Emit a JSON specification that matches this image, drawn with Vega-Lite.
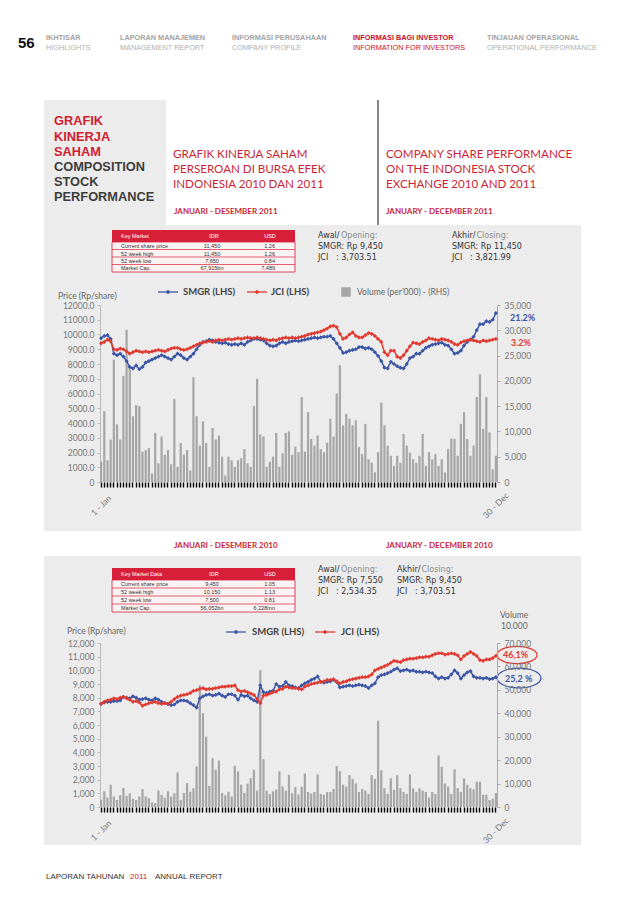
{
"$schema":"https://vega.github.io/schema/vega-lite/v6.json",
"padding":0,
"background":"#ffffff",
"bounds":"flush",
"spacing":161,
"config":{"view":{"stroke":null},"font":"Lato"},
"datasets":{
"rects":[
{"k":"page","x":0,"x2":638,"y":0,"y2":903},
{"k":"bg","x":44,"x2":166,"y":100,"y2":226},
{"k":"bg","x":44,"x2":581,"y":225,"y2":531},
{"k":"bg","x":44,"x2":581,"y":556,"y2":845},
{"k":"th","x":112,"x2":295,"y":230,"y2":242},
{"k":"tb","x":112,"x2":295,"y":242,"y2":272},
{"k":"th","x":112,"x2":295,"y":568,"y2":580},
{"k":"tb","x":112,"x2":295,"y":580,"y2":612}
],
"rules":[
{"k":"vl","x":378,"x2":378,"y":100,"y2":225},
{"k":"tl","x":112,"x2":295,"y":249.5,"y2":249.5},
{"k":"tl","x":112,"x2":295,"y":257,"y2":257},
{"k":"tl","x":112,"x2":295,"y":264.5,"y2":264.5},
{"k":"tl","x":112,"x2":295,"y":588,"y2":588},
{"k":"tl","x":112,"x2":295,"y":596,"y2":596},
{"k":"tl","x":112,"x2":295,"y":604,"y2":604},
{"k":"lb","x":158,"x2":178,"y":292,"y2":292},
{"k":"lr","x":247,"x2":267,"y":292,"y2":292},
{"k":"lb","x":226,"x2":246,"y":632,"y2":632},
{"k":"lr","x":315,"x2":335,"y":632,"y2":632}
],
"pts":[
{"k":"db","x":168,"y":292},
{"k":"dr","x":257,"y":292},
{"k":"db","x":236,"y":632},
{"k":"dr","x":325,"y":632},
{"k":"sq","x":346,"y":292},
{"k":"er","x":517,"y":655},
{"k":"eb","x":519,"y":678}
],
"txt":[
{"k":"pg","x":18,"y":43,"t":"56"},
{"k":"n1","x":46,"y":38,"t":"IKHTISAR"},
{"k":"n1","x":120,"y":38,"t":"LAPORAN MANAJEMEN"},
{"k":"n1","x":232,"y":38,"t":"INFORMASI PERUSAHAAN"},
{"k":"n1","x":487,"y":38,"t":"TINJAUAN OPERASIONAL"},
{"k":"n2","x":46,"y":48,"t":"HIGHLIGHTS"},
{"k":"n2","x":120,"y":48,"t":"MANAGEMENT REPORT"},
{"k":"n2","x":232,"y":48,"t":"COMPANY PROFILE"},
{"k":"n2","x":487,"y":48,"t":"OPERATIONAL PERFORMANCE"},
{"k":"r1","x":353,"y":38,"t":"INFORMASI BAGI INVESTOR"},
{"k":"r2","x":353,"y":48,"t":"INFORMATION FOR INVESTORS"},
{"k":"bt","x":54,"y":121,"t":"GRAFIK"},
{"k":"bt","x":54,"y":137,"t":"KINERJA"},
{"k":"bt","x":54,"y":152,"t":"SAHAM"},
{"k":"bd","x":54,"y":167,"t":"COMPOSITION"},
{"k":"bd","x":54,"y":182,"t":"STOCK"},
{"k":"bd","x":54,"y":197,"t":"PERFORMANCE"},
{"k":"tt","x":173,"y":155,"t":"GRAFIK KINERJA SAHAM"},
{"k":"tt","x":173,"y":170,"t":"PERSEROAN DI BURSA EFEK"},
{"k":"tt","x":173,"y":185,"t":"INDONESIA 2010 DAN 2011"},
{"k":"tt","x":386,"y":155,"t":"COMPANY SHARE PERFORMANCE"},
{"k":"tt","x":386,"y":170,"t":"ON THE INDONESIA STOCK"},
{"k":"tt","x":386,"y":185,"t":"EXCHANGE 2010 AND 2011"},
{"k":"st","x":174,"y":212,"t":"JANUARI - DESEMBER 2011"},
{"k":"st","x":386,"y":212,"t":"JANUARY - DECEMBER 2011"},
{"k":"st","x":174,"y":546,"t":"JANUARI - DESEMBER 2010"},
{"k":"st","x":386,"y":546,"t":"JANUARY - DECEMBER 2010"},
{"k":"twl","x":121,"y":236,"t":"Key Market"},
{"k":"twc","x":214,"y":236,"t":"IDR"},
{"k":"twc","x":270,"y":236,"t":"USD"},
{"k":"tdl","x":121,"y":246,"t":"Current share price"},
{"k":"tdl","x":121,"y":253.5,"t":"52 week high"},
{"k":"tdl","x":121,"y":261,"t":"52 week low"},
{"k":"tdl","x":121,"y":268,"t":"Market Cap."},
{"k":"tdc","x":212,"y":246,"t":"11,450"},
{"k":"tdc","x":212,"y":253.5,"t":"11,450"},
{"k":"tdc","x":212,"y":261,"t":"7,650"},
{"k":"tdc","x":212,"y":268,"t":"67,915bn"},
{"k":"tdr","x":275,"y":246,"t":"1.26"},
{"k":"tdr","x":275,"y":253.5,"t":"1.26"},
{"k":"tdr","x":275,"y":261,"t":"0.84"},
{"k":"tdr","x":275,"y":268,"t":"7,489"},
{"k":"twl","x":121,"y":574,"t":"Key Market  Data"},
{"k":"twc","x":214,"y":574,"t":"IDR"},
{"k":"twc","x":270,"y":574,"t":"USD"},
{"k":"tdl","x":121,"y":584,"t":"Current share price"},
{"k":"tdl","x":121,"y":592,"t":"52 week high"},
{"k":"tdl","x":121,"y":600,"t":"52 week low"},
{"k":"tdl","x":121,"y":608,"t":"Market Cap."},
{"k":"tdc","x":212,"y":584,"t":"9,450"},
{"k":"tdc","x":212,"y":592,"t":"10,150"},
{"k":"tdc","x":212,"y":600,"t":"7,500"},
{"k":"tdc","x":212,"y":608,"t":"56,052bn"},
{"k":"tdr","x":275,"y":584,"t":"1.05"},
{"k":"tdr","x":275,"y":592,"t":"1.13"},
{"k":"tdr","x":275,"y":600,"t":"0.81"},
{"k":"tdr","x":275,"y":608,"t":"6,228mn"},
{"k":"aw","x":318,"y":236,"t":"Awal/"},
{"k":"ag","x":341,"y":236,"t":"Opening:"},
{"k":"aw","x":318,"y":247,"t":"SMGR: Rp 9,450"},
{"k":"aw","x":318,"y":258,"t":"JCI\u00a0\u00a0 : 3,703.51"},
{"k":"aw","x":452,"y":236,"t":"Akhir/"},
{"k":"ag","x":476.5,"y":236,"t":"Closing:"},
{"k":"aw","x":452,"y":247,"t":"SMGR: Rp 11,450"},
{"k":"aw","x":452,"y":258,"t":"JCI\u00a0\u00a0 : 3,821.99"},
{"k":"aw","x":318,"y":570,"t":"Awal/"},
{"k":"ag","x":341,"y":570,"t":"Opening:"},
{"k":"aw","x":318,"y":581,"t":"SMGR: Rp 7,550"},
{"k":"aw","x":318,"y":592,"t":"JCI\u00a0\u00a0 : 2,534.35"},
{"k":"aw","x":397,"y":570,"t":"Akhir/"},
{"k":"ag","x":421.5,"y":570,"t":"Closing:"},
{"k":"aw","x":397,"y":581,"t":"SMGR: Rp 9,450"},
{"k":"aw","x":397,"y":592,"t":"JCI\u00a0\u00a0 : 3,703.51"},
{"k":"lg","x":183,"y":292,"t":"SMGR (LHS)"},
{"k":"lg","x":271,"y":292,"t":"JCI (LHS)"},
{"k":"lv","x":357,"y":292,"t":"Volume (per'000) - (RHS)"},
{"k":"lg","x":252,"y":632,"t":"SMGR (LHS)"},
{"k":"lg","x":341,"y":632,"t":"JCI (LHS)"},
{"k":"ax","x":58,"y":296,"t":"Price (Rp/share)"},
{"k":"ax","x":67,"y":631,"t":"Price (Rp/share)"},
{"k":"ax","x":500,"y":615,"t":"Volume"},
{"k":"ax","x":501,"y":626,"t":"10.000"},
{"k":"pb","x":510,"y":318,"t":"21.2%"},
{"k":"pr","x":511,"y":343,"t":"3.2%"},
{"k":"pr","x":503,"y":655,"t":"46,1%"},
{"k":"pb","x":505,"y":678.5,"t":"25,2 %"},
{"k":"ft","x":46,"y":877,"t":"LAPORAN TAHUNAN"},
{"k":"fr","x":130,"y":877,"t":"2011"},
{"k":"ft","x":155,"y":877,"t":"ANNUAL REPORT"}
],
"y2011":[
{"i":0,"s":9750,"j":9400,"v":4000},{"i":1,"s":9900,"j":9500,"v":14000},{"i":2,"s":9950,"j":9650,"v":4300},{"i":3,"s":9700,"j":9550,"v":8400},{"i":4,"s":8700,"j":9000,"v":24200},
{"i":5,"s":8600,"j":8950,"v":11400},{"i":6,"s":8700,"j":9050,"v":8400},{"i":7,"s":8500,"j":9000,"v":21000},{"i":8,"s":8200,"j":8850,"v":30100},{"i":9,"s":7800,"j":8700,"v":23000},
{"i":10,"s":7700,"j":8800,"v":13000},{"i":11,"s":7900,"j":8900,"v":15200},{"i":12,"s":7650,"j":8850,"v":15000},{"i":13,"s":7800,"j":8800,"v":6000},{"i":14,"s":8100,"j":8850,"v":6300},
{"i":15,"s":8200,"j":8800,"v":6700},{"i":16,"s":8300,"j":8850,"v":1700},{"i":17,"s":8400,"j":8900,"v":9700},{"i":18,"s":8500,"j":8950,"v":3700},{"i":19,"s":8600,"j":8900,"v":9000},
{"i":20,"s":8500,"j":8850,"v":5400},{"i":21,"s":8400,"j":8950,"v":6300},{"i":22,"s":8300,"j":9050,"v":3500},{"i":23,"s":8500,"j":9100,"v":16400},{"i":24,"s":8700,"j":9100,"v":3000},
{"i":25,"s":8600,"j":9000,"v":7700},{"i":26,"s":8400,"j":8950,"v":5400},{"i":27,"s":8300,"j":9000,"v":6300},{"i":28,"s":8500,"j":9100,"v":2300},{"i":29,"s":8700,"j":9200,"v":20700},
{"i":30,"s":9000,"j":9300,"v":13000},{"i":31,"s":9300,"j":9400,"v":7200},{"i":32,"s":9500,"j":9450,"v":12000},{"i":33,"s":9550,"j":9500,"v":7700},{"i":34,"s":9650,"j":9550,"v":3000},
{"i":35,"s":9600,"j":9500,"v":10700},{"i":36,"s":9500,"j":9600,"v":8400},{"i":37,"s":9450,"j":9650,"v":9200},{"i":38,"s":9400,"j":9600,"v":5000},{"i":39,"s":9450,"j":9650,"v":1300},
{"i":40,"s":9350,"j":9700,"v":5000},{"i":41,"s":9300,"j":9650,"v":4300},{"i":42,"s":9350,"j":9700,"v":3000},{"i":43,"s":9300,"j":9750,"v":4300},{"i":44,"s":9400,"j":9700,"v":4700},
{"i":45,"s":9300,"j":9750,"v":6500},{"i":46,"s":9500,"j":9800,"v":3700},{"i":47,"s":9600,"j":9750,"v":3000},{"i":48,"s":9700,"j":9750,"v":15000},{"i":49,"s":9700,"j":9800,"v":20400},
{"i":50,"s":9650,"j":9750,"v":9400},{"i":51,"s":9600,"j":9700,"v":9000},{"i":52,"s":9400,"j":9650,"v":3000},{"i":53,"s":9250,"j":9600,"v":4000},{"i":54,"s":9200,"j":9650,"v":5000},
{"i":55,"s":9250,"j":9600,"v":9700},{"i":56,"s":9400,"j":9700,"v":3000},{"i":57,"s":9500,"j":9750,"v":5700},{"i":58,"s":9400,"j":9800,"v":9700},{"i":59,"s":9500,"j":9750,"v":10000},
{"i":60,"s":9550,"j":9800,"v":5400},{"i":61,"s":9600,"j":9750,"v":7000},{"i":62,"s":9550,"j":9800,"v":5900},{"i":63,"s":9600,"j":9850,"v":16800},{"i":64,"s":9650,"j":9900,"v":6000},
{"i":65,"s":9700,"j":10000,"v":13800},{"i":66,"s":9750,"j":10050,"v":8500},{"i":67,"s":9800,"j":10100,"v":7200},{"i":68,"s":9750,"j":10150,"v":9200},{"i":69,"s":9800,"j":10200,"v":6500},
{"i":70,"s":9850,"j":10300,"v":5900},{"i":71,"s":9850,"j":10400,"v":7800},{"i":72,"s":9900,"j":10550,"v":12500},{"i":73,"s":9700,"j":10600,"v":9000},{"i":74,"s":9400,"j":10500,"v":17500},
{"i":75,"s":9100,"j":10050,"v":23100},{"i":76,"s":8750,"j":9700,"v":11200},{"i":77,"s":8800,"j":9800,"v":13500},{"i":78,"s":8900,"j":10000,"v":12500},{"i":79,"s":8950,"j":10150,"v":11200},
{"i":80,"s":9000,"j":9900,"v":12200},{"i":81,"s":9150,"j":9800,"v":6900},{"i":82,"s":9150,"j":9800,"v":5500},{"i":83,"s":9050,"j":9950,"v":11500},{"i":84,"s":9100,"j":10100,"v":4500},
{"i":85,"s":9000,"j":10050,"v":3800},{"i":86,"s":8800,"j":9900,"v":1900},{"i":87,"s":8550,"j":9700,"v":5900},{"i":88,"s":8200,"j":9500,"v":15700},{"i":89,"s":7750,"j":8800,"v":11200},
{"i":90,"s":7700,"j":8600,"v":7200},{"i":91,"s":8150,"j":8900,"v":5200},{"i":92,"s":8000,"j":8900,"v":3200},{"i":93,"s":7850,"j":8500,"v":5200},{"i":94,"s":7750,"j":8400,"v":3800},
{"i":95,"s":7700,"j":8600,"v":9500},{"i":96,"s":8000,"j":8900,"v":7200},{"i":97,"s":8400,"j":9200,"v":5800},{"i":98,"s":8500,"j":9450,"v":4500},{"i":99,"s":8700,"j":9400,"v":3800},
{"i":100,"s":8700,"j":9350,"v":5200},{"i":101,"s":8900,"j":9500,"v":9500},{"i":102,"s":9100,"j":9600,"v":3200},{"i":103,"s":9200,"j":9750,"v":5900},{"i":104,"s":9300,"j":9700,"v":4500},
{"i":105,"s":9350,"j":9650,"v":5500},{"i":106,"s":9400,"j":9600,"v":3200},{"i":107,"s":9450,"j":9700,"v":4500},{"i":108,"s":9300,"j":9650,"v":1900},{"i":109,"s":9250,"j":9600,"v":6500},
{"i":110,"s":9000,"j":9500,"v":8600},{"i":111,"s":8700,"j":9350,"v":8500},{"i":112,"s":8750,"j":9300,"v":5200},{"i":113,"s":8900,"j":9450,"v":11500},{"i":114,"s":9250,"j":9550,"v":13800},
{"i":115,"s":9500,"j":9600,"v":8500},{"i":116,"s":9650,"j":9650,"v":5200},{"i":117,"s":9850,"j":9600,"v":7200},{"i":118,"s":10300,"j":9550,"v":16800},{"i":119,"s":10700,"j":9500,"v":21300},
{"i":120,"s":10700,"j":9600,"v":10500},{"i":121,"s":10900,"j":9550,"v":16800},{"i":122,"s":10850,"j":9600,"v":9800},{"i":123,"s":11000,"j":9650,"v":2500},{"i":124,"s":11450,"j":9700,"v":5200}
],
"y2010":[
{"i":0,"s":7550,"j":7550,"v":3100},{"i":1,"s":7650,"j":7700,"v":6700},{"i":2,"s":7700,"j":7800,"v":4000},{"i":3,"s":7700,"j":7850,"v":9500},{"i":4,"s":7750,"j":7950,"v":4500},
{"i":5,"s":7750,"j":7900,"v":3000},{"i":6,"s":7800,"j":8000,"v":5000},{"i":7,"s":8050,"j":8050,"v":8100},{"i":8,"s":8000,"j":7950,"v":4800},{"i":9,"s":7950,"j":7850,"v":5800},
{"i":10,"s":8100,"j":7700,"v":3500},{"i":11,"s":8000,"j":7750,"v":3000},{"i":12,"s":7850,"j":7650,"v":4500},{"i":13,"s":7900,"j":7400,"v":7700},{"i":14,"s":7950,"j":7500,"v":4500},
{"i":15,"s":7850,"j":7600,"v":3800},{"i":16,"s":7800,"j":7650,"v":2000},{"i":17,"s":7950,"j":7700,"v":1700},{"i":18,"s":7850,"j":7600,"v":7100},{"i":19,"s":7700,"j":7550,"v":5200},
{"i":20,"s":7600,"j":7600,"v":4000},{"i":21,"s":7550,"j":7550,"v":6700},{"i":22,"s":7450,"j":7700,"v":4500},{"i":23,"s":7500,"j":7900,"v":5800},{"i":24,"s":7700,"j":8050,"v":14700},
{"i":25,"s":7800,"j":8150,"v":3000},{"i":26,"s":7800,"j":8200,"v":6000},{"i":27,"s":7750,"j":8250,"v":10200},{"i":28,"s":7600,"j":8350,"v":6500},{"i":29,"s":7450,"j":8500,"v":8000},
{"i":30,"s":7280,"j":8550,"v":17300},{"i":31,"s":7950,"j":8650,"v":52000},{"i":32,"s":8100,"j":8700,"v":40000},{"i":33,"s":8200,"j":8600,"v":30000},{"i":34,"s":8250,"j":8650,"v":9000},
{"i":35,"s":8150,"j":8650,"v":20800},{"i":36,"s":8200,"j":8700,"v":15900},{"i":37,"s":8300,"j":8750,"v":19800},{"i":38,"s":8150,"j":8800,"v":6000},{"i":39,"s":8050,"j":8800,"v":5000},
{"i":40,"s":8250,"j":8850,"v":6500},{"i":41,"s":8250,"j":8850,"v":4500},{"i":42,"s":8150,"j":8900,"v":17600},{"i":43,"s":7850,"j":8550,"v":15200},{"i":44,"s":8200,"j":8450,"v":9500},
{"i":45,"s":8100,"j":8500,"v":6000},{"i":46,"s":8150,"j":8400,"v":10000},{"i":47,"s":7950,"j":8300,"v":12300},{"i":48,"s":7800,"j":8200,"v":15900},{"i":49,"s":7700,"j":7900,"v":7000},
{"i":50,"s":8900,"j":7600,"v":58400},{"i":51,"s":8400,"j":8150,"v":20400},{"i":52,"s":8350,"j":8200,"v":7000},{"i":53,"s":8450,"j":8300,"v":5500},{"i":54,"s":8500,"j":8400,"v":6700},
{"i":55,"s":9000,"j":8450,"v":7500},{"i":56,"s":8800,"j":8600,"v":15200},{"i":57,"s":8850,"j":8650,"v":8800},{"i":58,"s":9150,"j":8800,"v":7000},{"i":59,"s":8900,"j":8750,"v":13700},
{"i":60,"s":8850,"j":8700,"v":5800},{"i":61,"s":8750,"j":8700,"v":8500},{"i":62,"s":8700,"j":8650,"v":5300},{"i":63,"s":8900,"j":8600,"v":8700},{"i":64,"s":9050,"j":8800,"v":14300},
{"i":65,"s":9150,"j":8900,"v":6400},{"i":66,"s":9300,"j":9000,"v":5700},{"i":67,"s":9400,"j":9050,"v":6400},{"i":68,"s":9550,"j":9100,"v":13900},{"i":69,"s":9150,"j":9150,"v":5600},
{"i":70,"s":9100,"j":9200,"v":5200},{"i":71,"s":9150,"j":9300,"v":6400},{"i":72,"s":9200,"j":9300,"v":6400},{"i":73,"s":9300,"j":9350,"v":7700},{"i":74,"s":9150,"j":9200,"v":17500},
{"i":75,"s":8750,"j":9050,"v":15300},{"i":76,"s":8800,"j":9150,"v":9500},{"i":77,"s":8850,"j":9200,"v":8700},{"i":78,"s":8900,"j":9300,"v":13600},{"i":79,"s":8850,"j":9350,"v":12000},
{"i":80,"s":8900,"j":9400,"v":10100},{"i":81,"s":8950,"j":9450,"v":6400},{"i":82,"s":8900,"j":9500,"v":7700},{"i":83,"s":8850,"j":9500,"v":7000},{"i":84,"s":8700,"j":9550,"v":5600},
{"i":85,"s":8900,"j":9700,"v":13600},{"i":86,"s":9050,"j":10000,"v":12000},{"i":87,"s":9500,"j":10100,"v":36800},{"i":88,"s":9650,"j":10200,"v":15700},{"i":89,"s":9700,"j":10300,"v":8000},
{"i":90,"s":9800,"j":10400,"v":5600},{"i":91,"s":9900,"j":10550,"v":12200},{"i":92,"s":10050,"j":10700,"v":7300},{"i":93,"s":10150,"j":10650,"v":13600},{"i":94,"s":9950,"j":10600,"v":8000},
{"i":95,"s":10000,"j":10750,"v":6400},{"i":96,"s":10050,"j":10800,"v":5600},{"i":97,"s":9950,"j":10850,"v":13900},{"i":98,"s":10000,"j":10850,"v":8000},{"i":99,"s":9900,"j":10900,"v":6400},
{"i":100,"s":9900,"j":10950,"v":8000},{"i":101,"s":9850,"j":10950,"v":7000},{"i":102,"s":9900,"j":11000,"v":6400},{"i":103,"s":9850,"j":11000,"v":4000},{"i":104,"s":9800,"j":11100,"v":6400},
{"i":105,"s":9550,"j":11200,"v":5600},{"i":106,"s":9400,"j":11250,"v":22000},{"i":107,"s":9500,"j":11250,"v":17100},{"i":108,"s":9400,"j":11150,"v":10000},{"i":109,"s":9450,"j":11200,"v":8700},
{"i":110,"s":9700,"j":11250,"v":5600},{"i":111,"s":10000,"j":11200,"v":16100},{"i":112,"s":9800,"j":11100,"v":8000},{"i":113,"s":9400,"j":10800,"v":6400},{"i":114,"s":9650,"j":11050,"v":12200},
{"i":115,"s":9850,"j":11200,"v":9500},{"i":116,"s":9950,"j":11350,"v":8000},{"i":117,"s":9550,"j":11200,"v":7500},{"i":118,"s":9450,"j":11050,"v":10800},{"i":119,"s":9450,"j":10750,"v":10800},
{"i":120,"s":9400,"j":10700,"v":5200},{"i":121,"s":9450,"j":10800,"v":5200},{"i":122,"s":9350,"j":10800,"v":3000},{"i":123,"s":9400,"j":10900,"v":3500},{"i":124,"s":9500,"j":11050,"v":5900}
]
},
"vconcat":[
{
"width":397,"height":144,
"encoding":{
"x":{"field":"x","type":"quantitative","scale":{"domain":[100,497],"nice":false,"zero":false},"axis":null},
"y":{"field":"y","type":"quantitative","scale":{"domain":[0,144],"reverse":true,"nice":false,"zero":false},"axis":null}
},
"layer":[
{"data":{"name":"rects"},"transform":[{"filter":"datum.k=='page'"}],"mark":{"type":"rect","color":"#ffffff"},"encoding":{"x2":{"field":"x2"},"y2":{"field":"y2"}}},
{"data":{"name":"rects"},"transform":[{"filter":"datum.k=='bg'"}],"mark":{"type":"rect","color":"#ececec"},"encoding":{"x2":{"field":"x2"},"y2":{"field":"y2"}}},
{"data":{"name":"rects"},"transform":[{"filter":"datum.k=='th'"}],"mark":{"type":"rect","color":"#d71f3a"},"encoding":{"x2":{"field":"x2"},"y2":{"field":"y2"}}},
{"data":{"name":"rects"},"transform":[{"filter":"datum.k=='tb'"}],"mark":{"type":"rect","fill":"#faf3f4","stroke":"#d71f3a","strokeWidth":0.8},"encoding":{"x2":{"field":"x2"},"y2":{"field":"y2"}}},
{"data":{"name":"rules"},"transform":[{"filter":"datum.k=='vl'"}],"mark":{"type":"rule","color":"#111111","strokeWidth":1},"encoding":{"x2":{"field":"x2"},"y2":{"field":"y2"}}},
{"data":{"name":"rules"},"transform":[{"filter":"datum.k=='tl'"}],"mark":{"type":"rule","color":"#d71f3a","strokeWidth":0.7},"encoding":{"x2":{"field":"x2"},"y2":{"field":"y2"}}},
{"data":{"name":"rules"},"transform":[{"filter":"datum.k=='lb'"}],"mark":{"type":"rule","color":"#3b55a5","strokeWidth":1.3},"encoding":{"x2":{"field":"x2"},"y2":{"field":"y2"}}},
{"data":{"name":"rules"},"transform":[{"filter":"datum.k=='lr'"}],"mark":{"type":"rule","color":"#e03a30","strokeWidth":1.3},"encoding":{"x2":{"field":"x2"},"y2":{"field":"y2"}}},
{"data":{"name":"pts"},"transform":[{"filter":"datum.k=='db'"}],"mark":{"type":"point","shape":"diamond","filled":true,"size":22,"color":"#3b55a5","opacity":1}},
{"data":{"name":"pts"},"transform":[{"filter":"datum.k=='dr'"}],"mark":{"type":"point","shape":"diamond","filled":true,"size":22,"color":"#e03a30","opacity":1}},
{"data":{"name":"pts"},"transform":[{"filter":"datum.k=='sq'"}],"mark":{"type":"point","shape":"square","filled":true,"size":90,"color":"#a6a6a6","opacity":1}},
{"data":{"name":"pts"},"transform":[{"filter":"datum.k=='er'"}],"mark":{"type":"point","shape":"M -1 0 A 1 0.43 0 1 0 1 0 A 1 0.43 0 1 0 -1 0 Z","filled":false,"size":1600,"stroke":"#e03a30","strokeWidth":1.2,"opacity":1}},
{"data":{"name":"pts"},"transform":[{"filter":"datum.k=='eb'"}],"mark":{"type":"point","shape":"M -1 0 A 1 0.45 0 1 0 1 0 A 1 0.45 0 1 0 -1 0 Z","filled":false,"size":1936,"stroke":"#3b55a5","strokeWidth":1.2,"opacity":1}},
{"data":{"name":"txt"},"transform":[{"filter":"datum.k=='pg'"}],"mark":{"type":"text","align":"left","baseline":"middle","font":"Liberation Sans","fontWeight":"bold","fontSize":15,"color":"#111111"},"encoding":{"text":{"field":"t"}}},
{"data":{"name":"txt"},"transform":[{"filter":"datum.k=='n1'"}],"mark":{"type":"text","align":"left","baseline":"middle","font":"Liberation Sans","fontWeight":"bold","fontSize":7.3,"color":"#a3a3a3"},"encoding":{"text":{"field":"t"}}},
{"data":{"name":"txt"},"transform":[{"filter":"datum.k=='n2'"}],"mark":{"type":"text","align":"left","baseline":"middle","font":"Liberation Sans","fontSize":7.3,"color":"#b0b0b0"},"encoding":{"text":{"field":"t"}}},
{"data":{"name":"txt"},"transform":[{"filter":"datum.k=='r1'"}],"mark":{"type":"text","align":"left","baseline":"middle","font":"Liberation Sans","fontWeight":"bold","fontSize":7.3,"color":"#c8102e"},"encoding":{"text":{"field":"t"}}},
{"data":{"name":"txt"},"transform":[{"filter":"datum.k=='r2'"}],"mark":{"type":"text","align":"left","baseline":"middle","font":"Liberation Sans","fontSize":7.3,"color":"#c8102e"},"encoding":{"text":{"field":"t"}}},
{"data":{"name":"txt"},"transform":[{"filter":"datum.k=='bt'"}],"mark":{"type":"text","align":"left","baseline":"middle","font":"Liberation Sans","fontWeight":"bold","fontSize":12.8,"color":"#d0202e"},"encoding":{"text":{"field":"t"}}},
{"data":{"name":"txt"},"transform":[{"filter":"datum.k=='bd'"}],"mark":{"type":"text","align":"left","baseline":"middle","font":"Liberation Sans","fontWeight":"bold","fontSize":12.8,"color":"#3d3d3d"},"encoding":{"text":{"field":"t"}}},
{"data":{"name":"txt"},"transform":[{"filter":"datum.k=='tt'"}],"mark":{"type":"text","align":"left","baseline":"middle","font":"Lato","fontSize":11.6,"color":"#cc1f36"},"encoding":{"text":{"field":"t"}}},
{"data":{"name":"txt"},"transform":[{"filter":"datum.k=='st'"}],"mark":{"type":"text","align":"left","baseline":"middle","font":"Lato","fontWeight":"bold","fontSize":8,"color":"#cc1f36"},"encoding":{"text":{"field":"t"}}},
{"data":{"name":"txt"},"transform":[{"filter":"datum.k=='twl'"}],"mark":{"type":"text","align":"left","baseline":"middle","font":"Liberation Sans","fontSize":5.5,"color":"#ffffff"},"encoding":{"text":{"field":"t"}}},
{"data":{"name":"txt"},"transform":[{"filter":"datum.k=='twc'"}],"mark":{"type":"text","align":"center","baseline":"middle","font":"Liberation Sans","fontSize":5.5,"color":"#ffffff"},"encoding":{"text":{"field":"t"}}},
{"data":{"name":"txt"},"transform":[{"filter":"datum.k=='tdl'"}],"mark":{"type":"text","align":"left","baseline":"middle","font":"Liberation Sans","fontSize":5.5,"color":"#333333"},"encoding":{"text":{"field":"t"}}},
{"data":{"name":"txt"},"transform":[{"filter":"datum.k=='tdc'"}],"mark":{"type":"text","align":"center","baseline":"middle","font":"Liberation Sans","fontSize":5.5,"color":"#333333"},"encoding":{"text":{"field":"t"}}},
{"data":{"name":"txt"},"transform":[{"filter":"datum.k=='tdr'"}],"mark":{"type":"text","align":"right","baseline":"middle","font":"Liberation Sans","fontSize":5.5,"color":"#333333"},"encoding":{"text":{"field":"t"}}},
{"data":{"name":"txt"},"transform":[{"filter":"datum.k=='aw'"}],"mark":{"type":"text","align":"left","baseline":"middle","font":"DejaVu Sans","fontSize":8,"color":"#333333"},"encoding":{"text":{"field":"t"}}},
{"data":{"name":"txt"},"transform":[{"filter":"datum.k=='ag'"}],"mark":{"type":"text","align":"left","baseline":"middle","font":"DejaVu Sans","fontSize":8,"color":"#8a8a8a"},"encoding":{"text":{"field":"t"}}},
{"data":{"name":"txt"},"transform":[{"filter":"datum.k=='lg'"}],"mark":{"type":"text","align":"left","baseline":"middle","font":"Lato","fontWeight":"bold","fontSize":9.5,"color":"#444444"},"encoding":{"text":{"field":"t"}}},
{"data":{"name":"txt"},"transform":[{"filter":"datum.k=='lv'"}],"mark":{"type":"text","align":"left","baseline":"middle","font":"Lato","fontSize":8.5,"color":"#666666"},"encoding":{"text":{"field":"t"}}},
{"data":{"name":"txt"},"transform":[{"filter":"datum.k=='ax'"}],"mark":{"type":"text","align":"left","baseline":"middle","font":"Lato","fontSize":8.5,"color":"#666666"},"encoding":{"text":{"field":"t"}}},
{"data":{"name":"txt"},"transform":[{"filter":"datum.k=='pb'"}],"mark":{"type":"text","align":"left","baseline":"middle","font":"Lato","fontWeight":"bold","fontSize":9,"color":"#3b55a5"},"encoding":{"text":{"field":"t"}}},
{"data":{"name":"txt"},"transform":[{"filter":"datum.k=='pr'"}],"mark":{"type":"text","align":"left","baseline":"middle","font":"Lato","fontWeight":"bold","fontSize":9,"color":"#e03a30"},"encoding":{"text":{"field":"t"}}},
{"data":{"name":"txt"},"transform":[{"filter":"datum.k=='ft'"}],"mark":{"type":"text","align":"left","baseline":"middle","font":"Liberation Sans","fontSize":8,"color":"#333333"},"encoding":{"text":{"field":"t"}}},
{"data":{"name":"txt"},"transform":[{"filter":"datum.k=='fr'"}],"mark":{"type":"text","align":"left","baseline":"middle","font":"Liberation Sans","fontSize":8,"color":"#d0202e"},"encoding":{"text":{"field":"t"}}}
]
},
{
"width":397,"height":177,
"data":{"name":"y2011"},
"encoding":{"x":{"field":"i","type":"ordinal","scale":{"paddingInner":0.3,"paddingOuter":0},
"axis":{"title":null,"domain":false,"grid":false,"tickColor":"#000000","tickSize":5,"tickWidth":1.4,"labelAngle":-45,"labelAlign":"center","labelBaseline":"middle","labelPadding":18,"labelFont":"Lato","labelFontSize":8.5,"labelColor":"#777777","labelOverlap":false,"labelExpr":"datum.value==0?'1 - Jan':(datum.value==124?'30 - Dec':'')"}}},
"layer":[
{"mark":{"type":"bar","color":"#a6a6a6"},
"encoding":{"y":{"field":"v","type":"quantitative","scale":{"domain":[0,35000],"nice":false},
"axis":{"orient":"right","title":null,"grid":false,"values":[0,5000,10000,15000,20000,25000,30000,35000],"format":",.0f","domainColor":"#aaaaaa","tickColor":"#aaaaaa","tickSize":3,"labelFont":"Lato","labelFontSize":8.5,"labelColor":"#777777","labelPadding":4}}}},
{"layer":[
{"mark":{"type":"line","color":"#3b55a5","strokeWidth":1.5,"point":{"filled":true,"shape":"diamond","size":18,"color":"#3b55a5"}},
"encoding":{"y":{"field":"s","type":"quantitative","scale":{"domain":[0,12000],"nice":false},
"axis":{"orient":"left","title":null,"grid":false,"values":[0,1000,2000,3000,4000,5000,6000,7000,8000,9000,10000,11000,12000],"labelExpr":"datum.value==0?'0':format(datum.value,'.1f')","domainColor":"#bbbbbb","tickColor":"#bbbbbb","tickSize":3,"labelFont":"Lato","labelFontSize":8.5,"labelColor":"#777777","labelPadding":3}}}},
{"mark":{"type":"line","color":"#e03a30","strokeWidth":1.5,"point":{"filled":true,"shape":"diamond","size":18,"color":"#e03a30"}},
"encoding":{"y":{"field":"j","type":"quantitative","scale":{"domain":[0,12000],"nice":false},
"axis":{"orient":"left","title":null,"grid":false,"values":[0,1000,2000,3000,4000,5000,6000,7000,8000,9000,10000,11000,12000],"labelExpr":"datum.value==0?'0':format(datum.value,'.1f')","domainColor":"#bbbbbb","tickColor":"#bbbbbb","tickSize":3,"labelFont":"Lato","labelFontSize":8.5,"labelColor":"#777777","labelPadding":3}}}}
]}
],
"resolve":{"scale":{"y":"independent"}}
},
{
"width":397,"height":164,
"data":{"name":"y2010"},
"encoding":{"x":{"field":"i","type":"ordinal","scale":{"paddingInner":0.3,"paddingOuter":0},
"axis":{"title":null,"domain":false,"grid":false,"tickColor":"#000000","tickSize":5,"tickWidth":1.4,"labelAngle":-45,"labelAlign":"center","labelBaseline":"middle","labelPadding":18,"labelFont":"Lato","labelFontSize":8.5,"labelColor":"#777777","labelOverlap":false,"labelExpr":"datum.value==0?'1 - Jan':(datum.value==124?'30 - Dec':'')"}}},
"layer":[
{"mark":{"type":"bar","color":"#a6a6a6"},
"encoding":{"y":{"field":"v","type":"quantitative","scale":{"domain":[0,70000],"nice":false},
"axis":{"orient":"right","title":null,"grid":false,"values":[0,10000,20000,30000,40000,50000,60000,70000],"format":",.0f","domainColor":"#aaaaaa","tickColor":"#aaaaaa","tickSize":3,"labelFont":"Lato","labelFontSize":8.5,"labelColor":"#777777","labelPadding":4}}}},
{"layer":[
{"mark":{"type":"line","color":"#3b55a5","strokeWidth":1.5,"point":{"filled":true,"shape":"diamond","size":18,"color":"#3b55a5"}},
"encoding":{"y":{"field":"s","type":"quantitative","scale":{"domain":[0,12000],"nice":false},
"axis":{"orient":"left","title":null,"grid":false,"values":[0,1000,2000,3000,4000,5000,6000,7000,8000,9000,10000,11000,12000],"format":",.0f","domainColor":"#bbbbbb","tickColor":"#bbbbbb","tickSize":3,"labelFont":"Lato","labelFontSize":8.5,"labelColor":"#777777","labelPadding":3}}}},
{"mark":{"type":"line","color":"#e03a30","strokeWidth":1.5,"point":{"filled":true,"shape":"diamond","size":18,"color":"#e03a30"}},
"encoding":{"y":{"field":"j","type":"quantitative","scale":{"domain":[0,12000],"nice":false},
"axis":{"orient":"left","title":null,"grid":false,"values":[0,1000,2000,3000,4000,5000,6000,7000,8000,9000,10000,11000,12000],"format":",.0f","domainColor":"#bbbbbb","tickColor":"#bbbbbb","tickSize":3,"labelFont":"Lato","labelFontSize":8.5,"labelColor":"#777777","labelPadding":3}}}}
]}
],
"resolve":{"scale":{"y":"independent"}}
}
]
}
